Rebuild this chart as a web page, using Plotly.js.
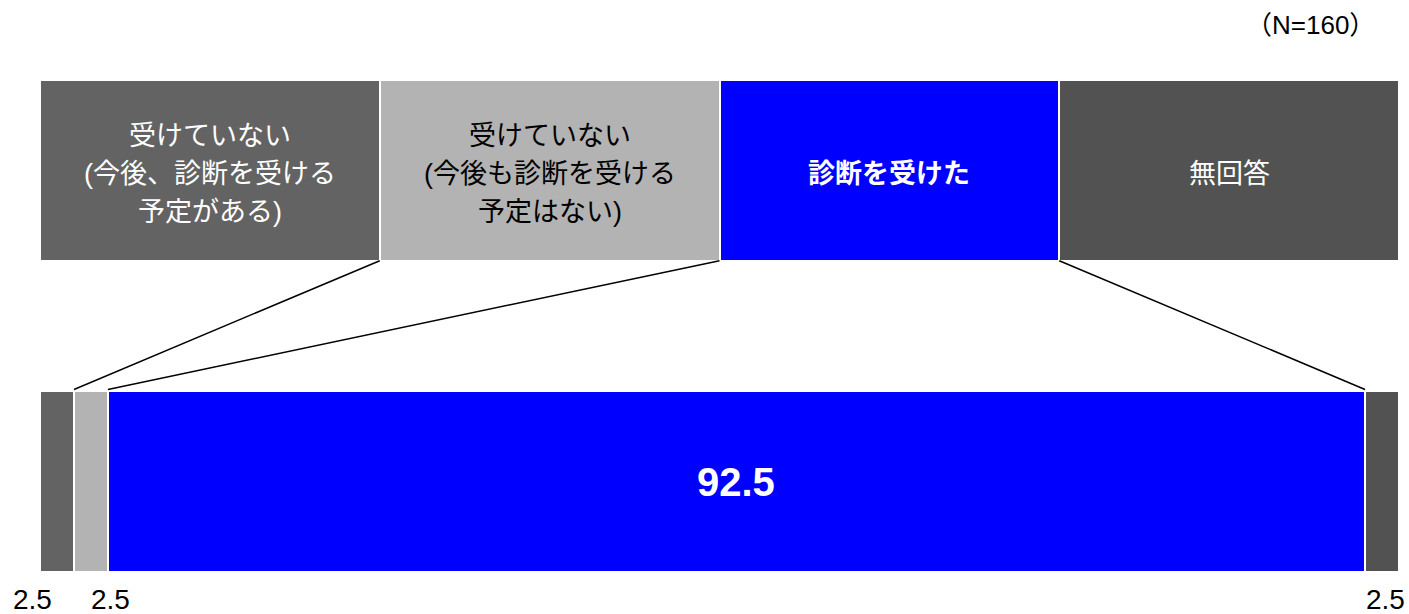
<!DOCTYPE html>
<html>
<head>
<meta charset="utf-8">
<script src="https://cdn.plot.ly/plotly-3.0.1.min.js"></script>
<style>html,body{margin:0;padding:0;background:#fff;}#chart{width:1409px;height:614px;}</style>
</head>
<body>
<div id="chart"></div>
<script>
// ---- data ----
const categories = [
  "受けていない\n(今後、診断を受ける\n予定がある)",
  "受けていない\n(今後も診断を受ける\n予定はない)",
  "診断を受けた",
  "無回答"
];
const values = [2.5, 2.5, 92.5, 2.5];
const sampleNote = "（N=160）";

// ---- styles ----
const colors = ["#636363", "#b3b3b3", "#0000ff", "#525252"];
const textColors = ["#ffffff", "#000000", "#ffffff", "#ffffff"];
const textBold = [false, false, true, false];
const FONT = "Liberation Sans, Arial, Noto Sans CJK JP, sans-serif";

const BAR_W = 0.58;
const Y_TOP = 1, Y_BOT = 0;
const n = categories.length;
const boxW = 100 / n;

const traces = [];
// top label boxes
for (let i = 0; i < n; i++) {
  traces.push({
    type: "bar", orientation: "h",
    x: [boxW], y: [Y_TOP], width: BAR_W,
    marker: {color: colors[i], line: {color: "#ffffff", width: 2}},
    hoverinfo: "skip", showlegend: false
  });
}
// bottom stacked data bar
for (let i = 0; i < n; i++) {
  traces.push({
    type: "bar", orientation: "h",
    x: [values[i]], y: [Y_BOT], width: BAR_W,
    name: categories[i].replace(/\n/g, ""),
    marker: {color: colors[i], line: {color: "#ffffff", width: 2}},
    hoverinfo: "skip", showlegend: false
  });
}

// connector lines
const cum = [];
values.reduce((a, v, i) => (cum[i] = a + v), 0);
const lx = [], ly = [];
for (let i = 0; i < n - 1; i++) {
  lx.push(boxW * (i + 1), cum[i], null);
  ly.push(Y_TOP - BAR_W / 2, Y_BOT + BAR_W / 2 + 0.006, null);
}
traces.push({
  type: "scatter", mode: "lines", x: lx, y: ly,
  line: {color: "#000000", width: 1.5},
  hoverinfo: "skip", showlegend: false
});

const annotations = [];
// box labels (line by line for line spacing control)
const LINE_STEP = 38;
categories.forEach((c, i) => {
  const lines = c.split("\n");
  lines.forEach((ln, j) => {
    annotations.push({
      x: boxW * (i + 0.5), y: Y_TOP, xref: "x", yref: "y",
      text: textBold[i] ? "<b>" + ln + "</b>" : ln,
      showarrow: false, xanchor: "center", yanchor: "middle",
      yshift: ((lines.length - 1) / 2 - j) * LINE_STEP - 3,
      font: {family: FONT, size: 27, color: textColors[i]}
    });
  });
});
// value labels
const smallShift = [-24, 20, 0, 3];
values.forEach((v, i) => {
  const center = cum[i] - v / 2;
  if (v >= 10) {
    annotations.push({
      x: center, y: Y_BOT, xref: "x", yref: "y",
      text: "<b>" + v.toFixed(1) + "</b>", showarrow: false,
      font: {family: FONT, size: 40, color: "#ffffff"}
    });
  } else {
    annotations.push({
      x: center, y: Y_BOT - BAR_W / 2, xref: "x", yref: "y",
      text: v.toFixed(1), showarrow: false,
      xanchor: "center", yanchor: "top",
      xshift: smallShift[i], yshift: -10,
      font: {family: FONT, size: 28, color: "#000000"}
    });
  }
});
// N note (paper coords)
const pw = 1409 - 40 - 10, ph = 614 - 80 - 42;
annotations.push({
  x: (1377 - 40) / pw, y: (614 - 42 - 25) / ph, xref: "paper", yref: "paper",
  text: sampleNote, showarrow: false, xanchor: "right", yanchor: "middle",
  font: {family: FONT, size: 26, color: "#000000"}
});

const layout = {
  width: 1409, height: 614,
  margin: {l: 40, r: 10, t: 80, b: 42},
  paper_bgcolor: "#ffffff", plot_bgcolor: "#ffffff",
  barmode: "stack", bargap: 0,
  showlegend: false,
  xaxis: {range: [0, 100], showgrid: false, zeroline: false, showticklabels: false, showline: false, fixedrange: true},
  yaxis: {range: [-BAR_W / 2 - 0.001, Y_TOP + BAR_W / 2 + 0.001], showgrid: false, zeroline: false, showticklabels: false, showline: false, fixedrange: true},
  annotations: annotations
};

Plotly.newPlot("chart", traces, layout, {displayModeBar: false, staticPlot: true});
</script>
</body>
</html>
